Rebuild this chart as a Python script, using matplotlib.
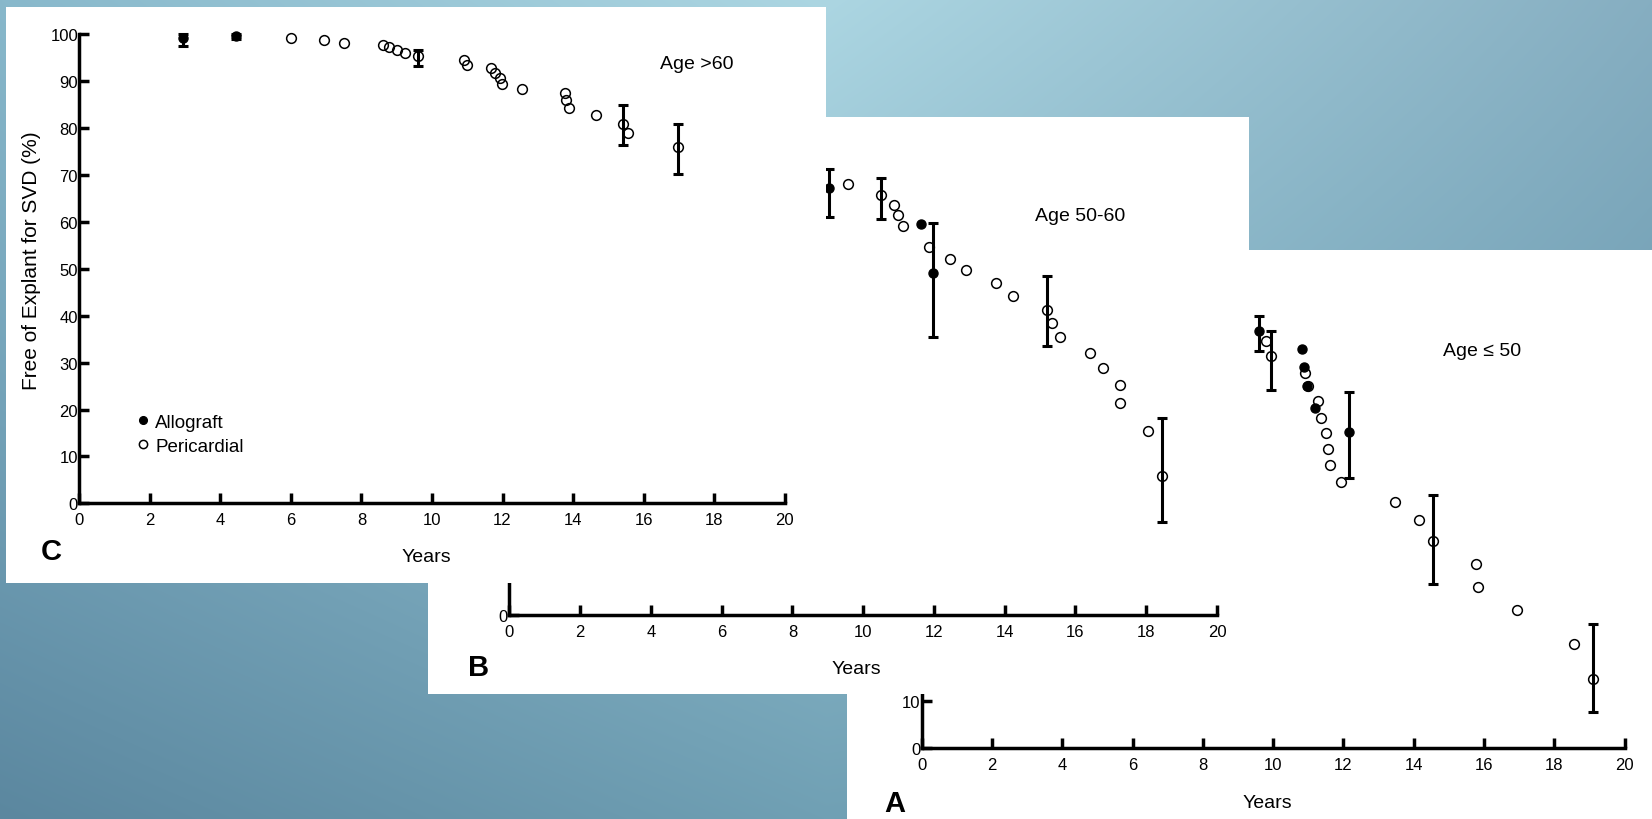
import numpy as np
import matplotlib.pyplot as plt
from matplotlib.patches import Rectangle
from matplotlib.colors import to_rgb

plt.rcParams['font.family'] = ['Liberation Sans', 'DejaVu Sans']

# ---------- Datos: libre de explante por SVD (%) vs años ----------
anios_ticks = [0, 2, 4, 6, 8, 10, 12, 14, 16, 18, 20]
pct_ticks = [0, 10, 20, 30, 40, 50, 60, 70, 80, 90, 100]

# C: edad > 60
c_allo_anio = [2.94, 4.44]
c_allo_pct = [99.1, 99.6]
c_allo_lo = [97.4, 99.0]
c_allo_hi = [100.0, 100.0]
c_peri_anio = [6.0, 6.95, 7.5, 8.62, 8.78, 9.0, 9.23, 9.61, 10.9, 10.99, 11.68,
               11.79, 11.94, 11.98, 12.55, 13.77, 13.81, 13.89, 14.65, 15.42, 15.57, 16.98]
c_peri_pct = [99.2, 98.8, 98.2, 97.7, 97.3, 96.7, 95.9, 95.3, 94.5, 93.5, 92.8,
              91.8, 90.7, 89.4, 88.4, 87.4, 85.9, 84.2, 82.8, 80.9, 79.0, 76.0]
c_barra_anio = [9.61, 15.42, 16.98]
c_barra_pct = [95.3, 80.9, 76.0]
c_barra_lo = [93.3, 76.4, 70.2]
c_barra_hi = [96.7, 85.0, 80.9]

# B: edad 50-60
b_allo_anio = [9.03, 11.63, 11.96]
b_allo_pct = [91.0, 83.4, 73.0]
b_allo_barra_anio = [9.03, 11.96]
b_allo_barra_pct = [91.0, 73.0]
b_allo_barra_lo = [84.9, 59.2]
b_allo_barra_hi = [95.0, 83.6]
b_peri_anio = [9.58, 10.49, 10.87, 10.99, 11.13, 11.85, 12.45, 12.90, 13.76, 14.22,
               15.20, 15.35, 15.56, 16.40, 16.79, 17.26, 17.26, 18.06, 18.44]
b_peri_pct = [91.8, 89.6, 87.4, 85.2, 82.9, 78.4, 76.0, 73.5, 70.8, 68.0,
              65.1, 62.2, 59.2, 55.9, 52.6, 49.0, 45.1, 39.3, 29.6]
b_barra_anio = [10.49, 15.20, 18.44]
b_barra_pct = [89.6, 65.1, 29.6]
b_barra_lo = [84.4, 57.3, 19.8]
b_barra_hi = [93.2, 72.2, 42.0]

# A: edad <= 50
a_allo_anio = [9.61, 10.82, 10.89, 10.95, 11.19, 12.16]
a_allo_pct = [89.7, 85.8, 81.8, 77.7, 73.0, 67.9]
a_allo_barra_anio = [9.61, 12.16]
a_allo_barra_pct = [89.7, 67.9]
a_allo_barra_lo = [85.4, 58.1]
a_allo_barra_hi = [92.9, 76.5]
a_peri_anio = [9.79, 9.93, 10.91, 11.0, 11.28, 11.35, 11.51, 11.57, 11.62, 11.94,
               13.47, 14.15, 14.56, 15.76, 15.83, 16.93, 18.57, 19.11]
a_peri_pct = [87.4, 84.2, 80.6, 77.8, 74.6, 70.9, 67.6, 64.2, 60.7, 57.1,
              52.9, 49.0, 44.4, 39.5, 34.6, 29.7, 22.2, 14.8]
a_barra_anio = [9.93, 14.56, 19.11]
a_barra_pct = [84.2, 44.4, 14.8]
a_barra_lo = [76.9, 35.2, 7.7]
a_barra_hi = [89.7, 54.3, 26.6]

# colores del fondo de la diapositiva (degradado azul)
fondo_x = [0, 826, 1652]
fondo_y = [0, 410, 820]
fondo_hex = [['#88b8cb', '#acd6e2', '#86aec1'],
             ['#73a2b8', '#8fbccd', '#72a0b5'],
             ['#5b879f', '#70a0b4', '#6a98ae']]

W, H = 1652, 820
fig = plt.figure(figsize=(W / 100, H / 100), dpi=100)


def caja(x0, y0, x1, y1):
    # rectangulo en pixeles (origen arriba-izquierda) -> coords de figura
    return [x0 / W, 1 - y1 / H, (x1 - x0) / W, (y1 - y0) / H]


# ---------- Fondo ----------
rgb = np.array([[to_rgb(c) for c in fila] for fila in fondo_hex])
xs = np.arange(W)
ys = np.arange(H)
pesos_y = np.array([np.interp(ys, fondo_y, np.eye(3)[i]) for i in range(3)])
img = np.zeros((H, W, 3))
for k in range(3):
    filas = np.array([np.interp(xs, fondo_x, rgb[i, :, k]) for i in range(3)])
    img[:, :, k] = pesos_y.T @ filas
ax_fondo = fig.add_axes([0, 0, 1, 1], zorder=0)
ax_fondo.imshow(img, extent=(0, W, H, 0), aspect='auto', interpolation='bilinear')
ax_fondo.axis('off')


def hoja(x0, y0, x1, y1, z):
    r = Rectangle((x0 / W, 1 - y1 / H), (x1 - x0) / W, (y1 - y0) / H,
                  transform=fig.transFigure, facecolor='white', edgecolor='none', zorder=z)
    fig.add_artist(r)


def preparar(ax, n_etiq_y=len(pct_ticks)):
    # n_etiq_y: cuantas etiquetas del eje y quedan a la vista (el resto lo tapa otra hoja)
    ax.set_facecolor('none')
    ax.set_xlim(0, 20)
    ax.set_ylim(0, 100)
    ax.spines[['top', 'right']].set_visible(False)
    for s in ['left', 'bottom']:
        ax.spines[s].set_linewidth(2.5)
    ax.set_xticks(anios_ticks)
    ax.set_yticks(pct_ticks)
    ax.set_yticklabels([str(v) if i < n_etiq_y else '' for i, v in enumerate(pct_ticks)])
    ax.tick_params(direction='in', length=7.5, width=2.5, labelsize=12)
    ax.tick_params(axis='x', pad=6.5)
    ax.tick_params(axis='y', pad=1)


def barras(ax, x, y, lo, hi):
    y = np.array(y)
    ax.errorbar(x, y, yerr=[y - np.array(lo), np.array(hi) - y], fmt='none',
                ecolor='black', elinewidth=2.2, capsize=3.6, capthick=2.2,
                clip_on=False, zorder=3)


def puntos(ax, xa, ya, xp, yp):
    ha, = ax.plot(xa, ya, 'o', ms=6.5, color='black', clip_on=False, zorder=4)
    hp, = ax.plot(xp, yp, 'o', ms=7, mfc='none', mec='black', mew=1.1,
                  clip_on=False, zorder=4)
    return ha, hp


def rotulos(ax, letra, lx, ly, yx, yy, edad, ex, ey):
    ax.set_xlabel('Years', fontsize=14)
    ax.xaxis.set_label_coords(yx, yy)
    ax.text(lx, ly, letra, transform=ax.transAxes, fontsize=21, fontweight='bold',
            ha='center', va='center', clip_on=False)
    ax.text(ex, ey, edad, transform=ax.transAxes, fontsize=14,
            ha='center', va='center')


# ---------- Panel A (abajo) ----------
hoja(847, 251, 1652, 820, 1)
ax_a = fig.add_axes(caja(921.8, 283.7, 1624.6, 748.7), zorder=2)
preparar(ax_a, n_etiq_y=2)
barras(ax_a, a_allo_barra_anio, a_allo_barra_pct, a_allo_barra_lo, a_allo_barra_hi)
barras(ax_a, a_barra_anio, a_barra_pct, a_barra_lo, a_barra_hi)
puntos(ax_a, a_allo_anio, a_allo_pct, a_peri_anio, a_peri_pct)
rotulos(ax_a, 'A', -0.038, -0.12, 0.491, -0.1, 'Age \u2264 50', 0.797, 0.855)

# ---------- Panel B (medio) ----------
hoja(428, 118, 1249, 695, 3)
ax_b = fig.add_axes(caja(509.4, 147, 1217, 616), zorder=4)
preparar(ax_b, n_etiq_y=1)
barras(ax_b, b_allo_barra_anio, b_allo_barra_pct, b_allo_barra_lo, b_allo_barra_hi)
barras(ax_b, b_barra_anio, b_barra_pct, b_barra_lo, b_barra_hi)
puntos(ax_b, b_allo_anio, b_allo_pct, b_peri_anio, b_peri_pct)
rotulos(ax_b, 'B', -0.044, -0.111, 0.4905, -0.095, 'Age 50-60', 0.807, 0.852)

# ---------- Panel C (arriba) ----------
hoja(6, 8, 826, 584, 5)
ax_c = fig.add_axes(caja(79.4, 35.2, 784.6, 504.4), zorder=6)
preparar(ax_c)
ax_c.set_ylabel('Free of Explant for SVD (%)', fontsize=15)
ax_c.yaxis.set_label_coords(-0.054, 0.52)
barras(ax_c, c_allo_anio, c_allo_pct, c_allo_lo, c_allo_hi)
barras(ax_c, c_barra_anio, c_barra_pct, c_barra_lo, c_barra_hi)
h_allo, h_peri = puntos(ax_c, c_allo_anio, c_allo_pct, c_peri_anio, c_peri_pct)
rotulos(ax_c, 'C', -0.0396, -0.1015, 0.4915, -0.096, 'Age >60', 0.875, 0.937)
ax_c.legend([h_allo, h_peri], ['Allograft', 'Pericardial'], loc='upper left',
            bbox_to_anchor=(0.082, 0.191), frameon=False, fontsize=13.5,
            handlelength=0.6, handletextpad=0.35, labelspacing=0.35,
            borderpad=0, borderaxespad=0, markerscale=0.85)

fig.savefig('out.png', dpi=100)
